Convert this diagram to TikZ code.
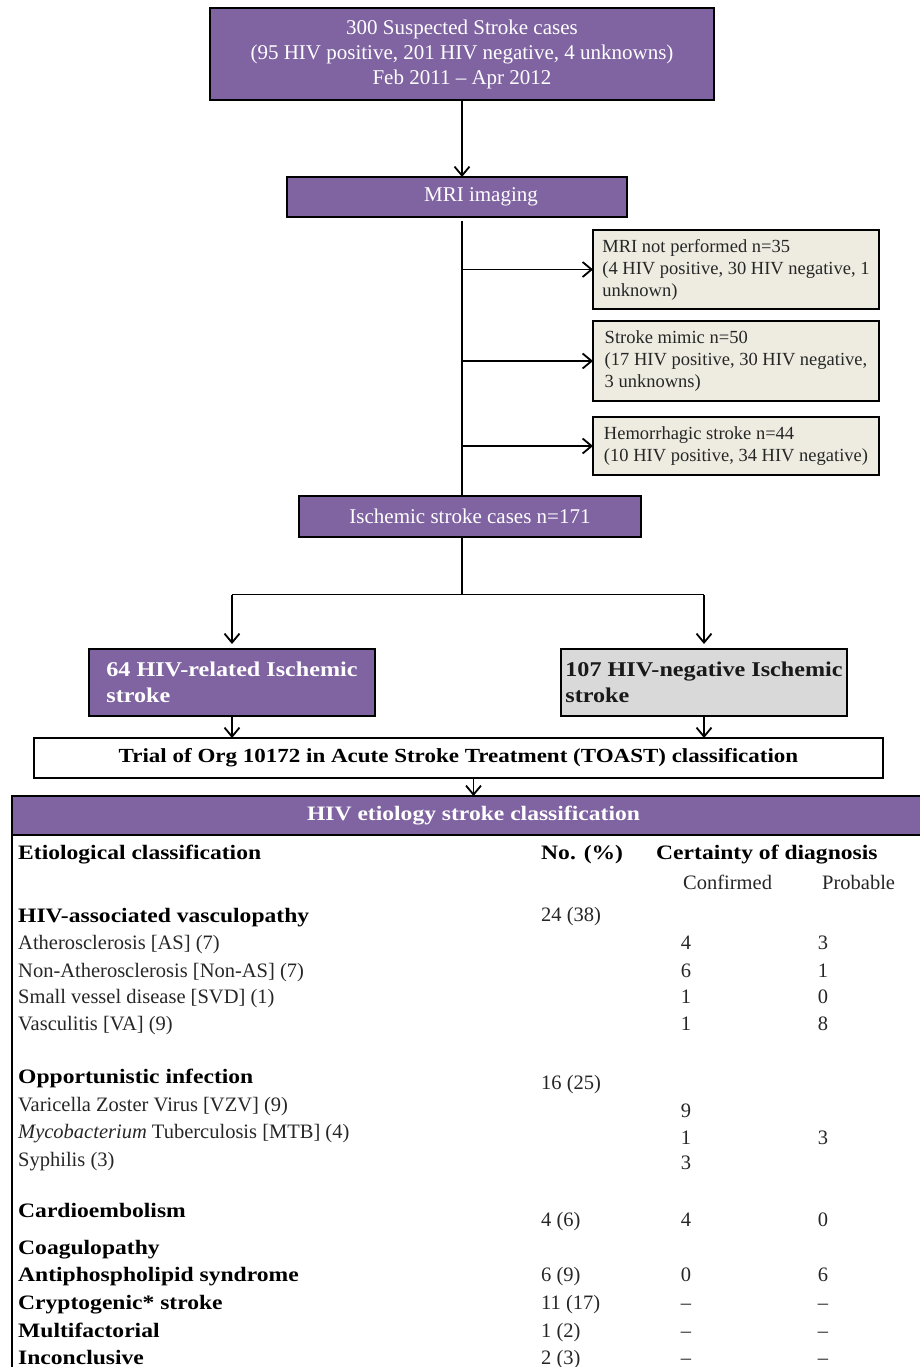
\documentclass[tikz,border=0pt]{standalone}
\usepackage{fontspec}
\setmainfont{Liberation Serif}[BoldFeatures={FakeStretch=1.15}]
\usetikzlibrary{arrows.meta}
\definecolor{hivpurple}{HTML}{8064A2}
\definecolor{beige}{HTML}{EEECE1}
\definecolor{lgray}{HTML}{D9D9D9}
\begin{document}
\begin{tikzpicture}[x=1pt,y=-1pt,
  box/.style={draw=black, line width=2pt, rectangle, inner sep=0pt, outer sep=0pt},
  pbox/.style={box, fill=hivpurple, text=white},
  sidebox/.style={box, fill=beige, text=black!85, align=left, minimum width=286pt, font=\fontsize{18.5}{22}\selectfont},
  bbox/.style={box, align=left, minimum width=286pt, minimum height=67pt, font=\fontsize{21}{26}\selectfont\bfseries},
  conn/.style={line width=1.8pt},
  arr/.style={conn, -{Straight Barb[length=9pt,width=15pt,line width=1.8pt]}},
  cell/.style={anchor=base west, inner sep=0pt, font=\fontsize{20.5}{24}\selectfont, text=black!85},
  bcell/.style={anchor=base west, inner sep=0pt, font=\fontsize{20.5}{24}\selectfont\bfseries, text=black},
  num/.style={anchor=base, inner sep=0pt, font=\fontsize{20.5}{24}\selectfont, text=black!85},
]
\useasboundingbox (0,0) rectangle (920,1367);
\clip (0,0) rectangle (920,1367);

% flowchart boxes
\node[pbox, minimum width=504pt, minimum height=92pt, align=center, font=\fontsize{21}{25}\selectfont] (top) at (462,54)
  {300 Suspected Stroke cases\\(95 HIV positive, 201 HIV negative, 4 unknowns)\\Feb 2011 -- Apr 2012};
\node[pbox, minimum width=340pt, minimum height=40pt, font=\fontsize{21}{25}\selectfont] (mri) at (457,197)
  {\hspace*{48pt}MRI imaging};
\node[sidebox, minimum height=79pt] (b1) at (736,269.5)
  {MRI not performed n=35\\(4 HIV positive, 30 HIV negative, 1\\unknown)};
\node[sidebox, minimum height=80pt] (b2) at (736,361)
  {Stroke mimic n=50\\(17 HIV positive, 30 HIV negative,\\3 unknowns)};
\node[sidebox, minimum height=58pt] (b3) at (736,446)
  {Hemorrhagic stroke n=44\\(10 HIV positive, 34 HIV negative)};
\node[pbox, minimum width=342pt, minimum height=41pt, font=\fontsize{21}{25}\selectfont] (isch) at (470,516)
  {Ischemic stroke cases n=171};
\node[bbox, fill=hivpurple, text=white] (left) at (232,682.5)
  {64 HIV-related Ischemic\\stroke};
\node[bbox, fill=lgray, text=black!90] (right) at (704,682.5)
  {107 HIV-negative Ischemic\\stroke};
\node[box, minimum width=849pt, minimum height=40pt, fill=white, font=\fontsize{20}{24}\selectfont\bfseries] (trial) at (458.5,758)
  {Trial of Org 10172 in Acute Stroke Treatment (TOAST) classification};
\node[box, line width=1.5pt, fill=hivpurple, text=white, minimum width=923pt, minimum height=39pt, font=\fontsize{20.5}{24}\selectfont\bfseries] (header) at (473.5,815.5)
  {HIV etiology stroke classification};

% connectors
\draw[arr] (top.south) -- (top.south |- mri.north);
\path (top.south |- mri.south) ++(0,4) coordinate (sp1);
\draw[conn] (sp1) -- (top.south |- isch.north);
\draw[arr] (top.south |- b1.west) -- (b1.west);
\draw[arr] (top.south |- b2.west) -- (b2.west);
\draw[arr] (top.south |- b3.west) -- (b3.west);
\draw[conn] (top.south |- isch.south) -- ++(0,58) coordinate (split);
\draw[conn] (split -| left.north) -- (split -| right.north);
\draw[arr, shorten >=5pt] (split -| left.north) -- (left.north);
\draw[arr, shorten >=5pt] (split -| right.north) -- (right.north);
\draw[arr] (left.south) -- (left.south |- trial.north);
\draw[arr] (right.south) -- (right.south |- trial.north);
\draw[arr] (trial.south -| header.north) -- (header.north);

% table borders
\coordinate (bot) at (0,1380);
\draw[line width=2.5pt] (header.south west) -- (header.south east);
\draw[line width=2.5pt] (header.north west) -- (header.south west |- bot);

% table content
\node[bcell] (h1) at (18,859) {Etiological classification};
\node[bcell] (h2) at (541,859) {No. (\%)};
\node[bcell] (h3) at (656,859) {Certainty of diagnosis};
\node[cell] (h4) at (683,889) {Confirmed};
\node[cell] (h5) at (822,889) {Probable};

\node[bcell] (r1) at (18,922) {HIV-associated vasculopathy};
\node[cell] (r1n) at (541,921) {24 (38)};
\node[cell] (r2) at (18,949) {Atherosclerosis [AS] (7)};
\node[num] (r2c) at (686,949) {4};
\node[num] (r2p) at (823,949) {3};
\node[cell] (r3) at (18,977) {Non-Atherosclerosis [Non-AS] (7)};
\node[num] (r3c) at (686,977) {6};
\node[num] (r3p) at (823,977) {1};
\node[cell] (r4) at (18,1003) {Small vessel disease [SVD] (1)};
\node[num] (r4c) at (686,1003) {1};
\node[num] (r4p) at (823,1003) {0};
\node[cell] (r5) at (18,1030) {Vasculitis [VA] (9)};
\node[num] (r5c) at (686,1030) {1};
\node[num] (r5p) at (823,1030) {8};

\node[bcell] (r6) at (18,1083) {Opportunistic infection};
\node[cell] (r6n) at (541,1089) {16 (25)};
\node[cell] (r7) at (18,1111) {Varicella Zoster Virus [VZV] (9)};
\node[num] (r7c) at (686,1117) {9};
\node[cell] (r8) at (18,1138) {\textit{Mycobacterium} Tuberculosis [MTB] (4)};
\node[num] (r8c) at (686,1144) {1};
\node[num] (r8p) at (823,1144) {3};
\node[cell] (r9) at (18,1166) {Syphilis (3)};
\node[num] (r9c) at (686,1169) {3};

\node[bcell] (r10) at (18,1217) {Cardioembolism};
\node[cell] (r10n) at (541,1226) {4 (6)};
\node[num] (r10c) at (686,1226) {4};
\node[num] (r10p) at (823,1226) {0};
\node[bcell] (r11) at (18,1254) {Coagulopathy};
\node[bcell] (r12) at (18,1281) {Antiphospholipid syndrome};
\node[cell] (r12n) at (541,1281) {6 (9)};
\node[num] (r12c) at (686,1281) {0};
\node[num] (r12p) at (823,1281) {6};
\node[bcell] (r13) at (18,1309) {Cryptogenic* stroke};
\node[cell] (r13n) at (541,1309) {11 (17)};
\node[num] (r13c) at (686,1309) {\textendash};
\node[num] (r13p) at (823,1309) {\textendash};
\node[bcell] (r14) at (18,1337) {Multifactorial};
\node[cell] (r14n) at (541,1337) {1 (2)};
\node[num] (r14c) at (686,1337) {\textendash};
\node[num] (r14p) at (823,1337) {\textendash};
\node[bcell] (r15) at (18,1364) {Inconclusive};
\node[cell] (r15n) at (541,1364) {2 (3)};
\node[num] (r15c) at (686,1364) {\textendash};
\node[num] (r15p) at (823,1364) {\textendash};
\end{tikzpicture}
\end{document}
